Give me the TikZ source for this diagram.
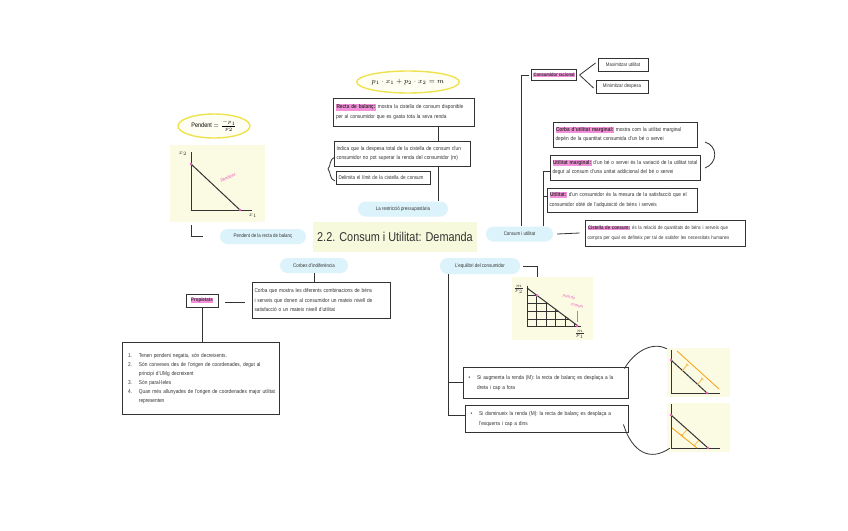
\documentclass[tikz,border=0pt]{standalone}
\usepackage{fontspec}
\setmainfont{Liberation Sans}[FakeStretch=0.85]
\usetikzlibrary{calc,shapes.geometric,arrows.meta}
\hyphenpenalty=10000
\exhyphenpenalty=10000
\definecolor{hlpink}{HTML}{F48FD9}
\definecolor{bubble}{HTML}{DDF3FB}
\definecolor{ybg}{HTML}{FBFBE3}
\definecolor{ttlbg}{HTML}{F6F9DC}
\definecolor{yline}{HTML}{EEE34F}
\definecolor{penpink}{HTML}{EE5FC3}
\definecolor{orng}{HTML}{F5A623}
\definecolor{ink}{HTML}{333333}
\newcommand{\pinkhl}[1]{{\setlength{\fboxsep}{0.5pt}\colorbox{hlpink}{\textbf{#1}}}}
\tikzset{
  txtbox/.style={draw=ink, line width=0.9pt, fill=white, inner sep=2.5pt, align=left,
    font=\fontsize{5.6}{9.5}\selectfont, text=ink},
  smallbox/.style={draw=ink, line width=0.9pt, fill=white, inner sep=1.8pt,
    font=\fontsize{5.2}{6}\selectfont, text=ink},
  bub/.style={fill=bubble, rounded corners=7.5pt, inner sep=2pt,
    font=\fontsize{5.2}{6}\selectfont, text=ink, minimum height=15pt},
  conn/.style={draw=ink, line width=0.8pt},
  yell/.style={ellipse, draw=yline, line width=1.4pt, fill=yellow!5, inner sep=0pt},
  gbg/.style={fill=ybg, draw=none},
  axisl/.style={line width=1pt, draw=ink},
  gridl/.style={line width=0.9pt, draw=ink},
  olin/.style={line width=0.9pt, draw=orng},
  otick/.style={line width=0.6pt, draw=orng, -{Bar[width=3pt,line width=0.6pt]}},
  pinktxt/.style={text=penpink, font=\fontsize{4.3}{5}\selectfont\itshape, inner sep=0pt}
}
\begin{document}
\begin{tikzpicture}[x=1pt,y=-1pt]
\useasboundingbox[fill=white] (0,0) rectangle (848,530);

% ---------- title ----------
\node[fill=ttlbg, minimum width=164pt, minimum height=30pt, inner sep=0pt,
  font=\fontsize{12.8}{14}\selectfont, text=ink] (title) at (395,237) {2.2. Consum i Utilitat: Demanda};

% ---------- top centre ----------
\node[yell, minimum width=95pt, minimum height=22pt, font=\fontsize{7.5}{8}\selectfont] (eq) at (408,82)
  {$p_1\cdot x_1 + p_2\cdot x_2 = m$};
\node[txtbox, text width=136pt, minimum height=28pt] (recta) at (404,112)
  {\pinkhl{Recta de balanç:} mostra la cistella de consum disponible per al consumidor que es gasta tota la seva renda};
\node[txtbox, text width=131pt, minimum height=25pt] (indica) at (402,153.5)
  {Indica que la despesa total de la cistella de consum d'un consumidor no pot superar la renda del consumidor (m)};
\node[txtbox, text width=89pt, minimum height=13pt, font=\fontsize{5.4}{6}\selectfont] (delim) at (383,177.5)
  {Delimita el límit de la cistella de consum};
\draw[conn] (335,157) .. controls (329,159) and (331,166) .. (328,169) .. controls (331,172) and (329,179) .. (335,181);
\node[bub, minimum width=90pt] (restr) at (403,209) {La restricció pressupostària};
\draw[conn] ([xshift=34pt]recta.south) -- ([xshift=36pt]indica.north);
\draw[conn] ([xshift=36pt]indica.south) -- ([xshift=35pt]restr.north);

% ---------- left top ----------
\node[yell, minimum width=72pt, minimum height=24pt, font=\fontsize{6.5}{7}\selectfont] (pend) at (214,126)
  {Pendent $=\frac{-p_1}{p_2}$};
\node[gbg, minimum width=95pt, minimum height=77pt, inner sep=0pt] (g1) at (217.5,183.5) {};
\draw[axisl] (191,152) -- (191,210) -- (252,210);
\draw[axisl] (191,164) -- (240,210);
\fill[penpink] (191,164) circle (1.3);
\fill[penpink] (240,210) circle (1.3);
\node[font=\fontsize{6}{6}\selectfont, text=ink, inner sep=0pt] (g1y) at (183,154) {$x_2$};
\node[font=\fontsize{6}{6}\selectfont, text=ink, inner sep=0pt] (g1x) at (253,216) {$x_1$};
\node[pinktxt, rotate=20, font=\fontsize{5}{6}\selectfont\itshape] (g1lab) at (228,178) {pendent};
\node[bub, minimum width=86pt] (pendbub) at (263,236.5) {Pendent de la recta de balanç};
\draw[conn] ([xshift=-26.5pt]g1.south) ++(0,3) |- ([xshift=-17pt]pendbub.west);

% ---------- left middle ----------
\node[bub, minimum width=68pt] (corbes) at (314,265.5) {Corbes d'indiferència};
\node[txtbox, text width=133pt, minimum height=36pt] (corba) at (321,300)
  {Corba que mostra les diferents combinacions de béns i serveis que donen al consumidor un mateix nivell de satisfacció o un mateix nivell d'utilitat};
\draw[conn] (corbes.south) -- (corbes.south |- corba.north);
\node[smallbox, minimum width=32pt, minimum height=13pt] (prop) at (202,300.5) {\pinkhl{Propietats}};
\draw[conn] ([xshift=7pt,yshift=-2pt]prop.east) -- ([xshift=-7pt,yshift=-2pt]prop.east -| corba.west);
\node[txtbox, text width=152pt, minimum height=72pt, font=\fontsize{5.6}{9}\selectfont] (list) at (201,378)
  {\begin{tabular}{@{\hspace{3pt}}l@{\hspace{7pt}}p{138pt}@{}}
   1. & Tenen pendent negatiu, són decreixents.\\
   2. & Són convexes des de l'origen de coordenades, degut al principi d'UMg decreixent\\
   3. & Són paral·leles\\
   4. & Quan més allunyades de l'origen de coordenades major utilitat representen
   \end{tabular}};
\draw[conn] (prop.south) -- (prop.south |- list.north);

% ---------- right top ----------
\node[smallbox, minimum height=11pt, inner sep=1.2pt, font=\fontsize{4.8}{6}\selectfont] (racional) at (554,75) {\pinkhl{Consumidor racional}};
\node[smallbox, minimum width=50pt, minimum height=13pt] (maxu) at (623,64.5) {Maximitzar utilitat};
\node[smallbox, minimum width=52pt, minimum height=13pt] (mind) at (622,86.5) {Minimitzar despesa};
\draw[conn] ([xshift=3pt]racional.east) -- ([xshift=-2pt,yshift=1.5pt]maxu.west);
\draw[conn] ([xshift=3pt]racional.east) -- ([xshift=-2pt,yshift=-1.5pt]mind.west);
\node[txtbox, text width=139pt, minimum height=25pt] (corbaum) at (625,134.5)
  {\pinkhl{Corba d'utilitat marginal:} mostra com la utilitat marginal depèn de la quantitat consumida d'un bé o servei};
\node[txtbox, text width=145pt, minimum height=25pt] (umarg) at (625,167.5)
  {\pinkhl{Utilitat marginal:} d'un bé o servei és la variació de la utilitat total degut al consum d'una unitat addicional del bé o servei};
\node[txtbox, text width=145pt, minimum height=24pt] (util) at (622,200)
  {\pinkhl{Utilitat:} d'un consumidor és la mesura de la satisfacció que el consumidor obté de l'adquisició de béns i serveis};
\draw[conn] (705,142) .. controls (718,146) and (718,163) .. (705,168);
\node[bub, minimum width=67pt] (consum) at (519.5,234) {Consum i utilitat};
\node[txtbox, text width=155pt, minimum height=26pt, font=\fontsize{5.1}{9.5}\selectfont] (cist) at (665,233)
  {\pinkhl{Cistella de consum:} és la relació de quantitats de béns i serveis que compra per qual es defineix per tal de satisfer les necessitats humanes};
\draw[conn] ([xshift=-2pt]racional.west) -| ([xshift=1.5pt]consum.north);
\draw[conn] ([xshift=23.5pt]consum.north) |- ([yshift=-4pt]umarg.west);
\draw[conn] ([xshift=23.5pt]consum.north) |- ([yshift=4pt]util.west);
\draw[conn] ([xshift=4pt]consum.east) -- ([xshift=-5pt]cist.west);

% ---------- right bottom ----------
\node[bub, minimum width=80pt, minimum height=16pt] (equil) at (480,266) {L'equilibri del consumidor};
\node[gbg, minimum width=81pt, minimum height=63pt, inner sep=0pt] (g2) at (552.5,308.5) {};
\draw[conn] ([xshift=3pt]equil.east) -| ([xshift=-15.5pt]g2.north);
\begin{scope}
  \clip (527,288) -- (578,326) -- (527,326) -- cycle;
  \foreach \x in {536.5,546,555.5,565,574.5} \draw[gridl] (\x,280) -- (\x,330);
  \foreach \y in {295,303,311,319} \draw[gridl] (520,\y) -- (585,\y);
\end{scope}
\draw[axisl] (527,286) -- (527,326) -- (581,326);
\draw[axisl] (527,288) -- (578,326);
\fill[penpink] (537,295.5) circle (1.4);
\fill[penpink] (577,326) circle (1.4);
\node[font=\fontsize{5}{5}\selectfont, text=ink, inner sep=0pt] (g2y) at (519,289) {$\frac{m}{p_2}$};
\node[font=\fontsize{5}{5}\selectfont, text=ink, inner sep=0pt] (g2x) at (580,334) {$\frac{m}{p_1}$};
\node[pinktxt, rotate=-15] (g2laba) at (569,297) {punt de};
\node[pinktxt, rotate=-15] (g2labb) at (577,306) {consum};
\draw[penpink, line width=0.6pt] (577,311) -- (577,322);

\node[txtbox, text width=160pt, minimum height=31pt] (inc) at (545.5,382.5)
  {\begin{tabular}{@{\hspace{3pt}}l@{\hspace{7pt}}p{142pt}@{}}
   • & Si augmenta la renda (M): la recta de balanç es desplaça a la dreta i cap a fora
   \end{tabular}};
\node[txtbox, text width=158pt, minimum height=27pt] (dec) at (546.5,418.5)
  {\begin{tabular}{@{\hspace{3pt}}l@{\hspace{7pt}}p{140pt}@{}}
   • & Si disminueix la renda (M): la recta de balanç es desplaça a l'esquerra i cap a dins
   \end{tabular}};
\draw[conn] ([xshift=-32pt]equil.south) |- (inc.west);
\draw[conn] ([xshift=-32pt]equil.south) |- ([yshift=3pt]dec.west);

% graph 3 (increase)
\node[gbg, minimum width=63pt, minimum height=49pt, inner sep=0pt] (g3) at (698.5,372.5) {};
\draw[axisl] (671,350) -- (671,393) -- (720,393);
\draw[axisl] (671,360) -- (707,393);
\draw[olin] (677,351) -- (719,389);
\draw[otick] (682,371) -- (687.5,364.5);
\draw[otick] (697,385) -- (702.5,378.5);
\fill[penpink] (671,360) circle (1.3);
\fill[penpink] (707,393) circle (1.3);
% graph 4 (decrease)
\node[gbg, minimum width=63pt, minimum height=49pt, inner sep=0pt] (g4) at (698.5,427.5) {};
\draw[axisl] (671,404) -- (671,448) -- (720,448);
\draw[axisl] (671,415) -- (708,448);
\draw[olin] (672,428) -- (697,448);
\draw[otick] (687,429.5) -- (682,435.5);
\draw[otick] (699,440) -- (694,446);
\fill[penpink] (671,415) circle (1.3);
\fill[penpink] (708,448) circle (1.3);

\draw[conn] ([xshift=-4pt,yshift=-2pt]inc.north east) .. controls (634,352) and (652,341) .. ([yshift=-1pt]g3.north west);
\draw[conn] ([xshift=-5pt,yshift=8pt]dec.south east) .. controls (632,452) and (650,462) .. ([xshift=3pt,yshift=4pt]g4.south west);
\end{tikzpicture}
\end{document}
